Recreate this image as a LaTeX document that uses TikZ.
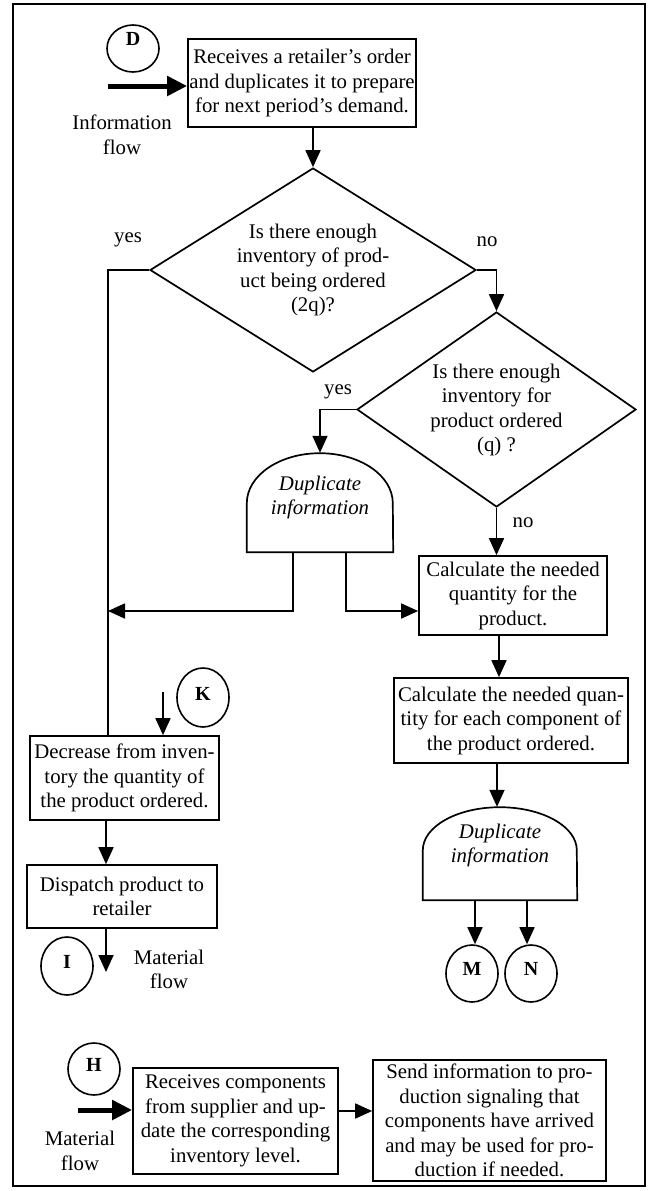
\documentclass[tikz,border=0pt]{standalone}
\usepackage{fontspec}
\setmainfont{Liberation Serif}
\usetikzlibrary{arrows.meta,shapes.geometric,calc}

\begin{document}
\begin{tikzpicture}[x=1pt,y=-1pt,
  every node/.style={font=\fontsize{20.8}{24.5}\selectfont, inner sep=0pt},
  box/.style={draw, line width=1.7pt, align=center},
  dia/.style={draw, diamond, line width=1.7pt, inner sep=0pt},
  txt/.style={align=center},
  dupt/.style={align=center, font=\fontsize{20.8}{24.5}\selectfont\itshape},
  conn/.style={draw, ellipse, line width=1.6pt, minimum width=52pt},
  letter/.style={font=\fontsize{20}{24}\selectfont\bfseries},
  link/.style={line width=1.7pt},
  arr/.style={link, -{Triangle[length=17pt,width=15pt]}},
  bigarr/.style={line width=5pt, -{Triangle[length=20pt,width=19pt]}},
  dupshape/.style={draw, line width=1.7pt},
]
\useasboundingbox (0,0) rectangle (649,1191);

% outer frame
\draw[line width=2pt] (13,4) rectangle (645,1186);

% ---- order handling -------------------------------------------------
\node[conn, minimum height=47pt] (D) at (133,48.5) {};
\node[letter] (Dl) at (133,38.5) {D};
\node[txt] (infolab) at (122,135) {Information\\flow};
\node[box, minimum width=228pt, minimum height=88pt] (b1) at (302,83)
  {Receives a retailer’s order\\and duplicates it to prepare\\for next period’s demand.};

\node[dia, minimum width=326pt, minimum height=204pt] (d1) at (313,270) {};
\node[txt] (d1t) at (313,270) {Is there enough\\inventory of prod-\\uct being ordered\\(2q)?};
\node (yes1) at (128,240) {yes};
\node (no1) at (487,242) {no};

\node[dia, minimum width=279pt, minimum height=195pt] (d2) at (496.5,409.5) {};
\node[txt] (d2t) at (496.5,410) {Is there enough\\inventory for\\product ordered\\(q) ?};
\node (yes2) at (338,392) {yes};
\node (no2) at (523,523) {no};

% duplicate-information blocks (flat base, arched top)
\node[minimum width=146pt, minimum height=99pt] (dup1) at (320,502.5) {};
\draw[dupshape] (dup1.south west) -- ++(0,-49)
  arc[start angle=180, end angle=0, x radius=73pt, y radius=50pt]
  -- (dup1.south east) -- cycle;
\node[dupt] (dup1t) at (320,497.5) {Duplicate\\information};

\node[box, minimum width=188pt, minimum height=79pt] (c1) at (513,595.5)
  {Calculate the needed\\quantity for the\\product.};
\node[box, minimum width=234pt, minimum height=85pt] (c2) at (511,720.5)
  {Calculate the needed quan-\\tity for each component of\\the product ordered.};

\node[minimum width=154pt, minimum height=93pt] (dup2) at (500,853.5) {};
\draw[dupshape] (dup2.south west) -- ++(0,-50)
  arc[start angle=180, end angle=0, x radius=77pt, y radius=43pt]
  -- (dup2.south east) -- cycle;
\node[dupt] (dup2t) at (500,845.5) {Duplicate\\information};

\node[conn, minimum height=57pt] (M) at (472,973.5) {};
\node[letter] (Ml) at (472,968.5) {M};
\node[conn, minimum height=57pt] (N) at (531,973.5) {};
\node[letter] (Nl) at (531,968.5) {N};

\node[conn, minimum height=59pt] (K) at (203,697.5) {};
\node[letter] (Kl) at (203,694) {K};
\node[box, minimum width=189pt, minimum height=84pt] (dec) at (124.5,778)
  {Decrease from inven-\\tory the quantity of\\the product ordered.};
\node[box, minimum width=190pt, minimum height=63pt] (disp) at (122,896.5)
  {Dispatch product to\\retailer};
\node[conn, minimum height=58pt] (I) at (67,966) {};
\node[letter] (Il) at (67,961.5) {I};
\node[txt] (mf1) at (169,969.5) {Material\\flow};

% ---- component receipt ----------------------------------------------
\node[conn, minimum height=52pt] (H) at (94,1069) {};
\node[letter] (Hl) at (94,1065) {H};
\node[txt] (mf2) at (80,1151) {Material\\flow};
\node[box, minimum width=205pt, minimum height=106pt] (rc) at (235.5,1121)
  {Receives components\\from supplier and up-\\date the corresponding\\inventory level.};
\node[box, minimum width=233pt, minimum height=121pt] (sd) at (489.5,1120.5)
  {Send information to pro-\\duction signaling that\\components have arrived\\and may be used for pro-\\duction if needed.};

% ---- connectors ------------------------------------------------------
\coordinate (dIn) at (108,86);
\draw[bigarr] (dIn) -- (dIn -| b1.west);
\draw[arr] (b1.south -| d1.north) -- (d1.north);

\coordinate (yx) at (108,0);
\draw[link] (d1.west) -- (d1.west -| yx) -- (dec.north -| yx);
\draw[arr] (d1.east) -| (d2.north);
\draw[arr] (d2.west) -| (dup1.north);
\draw[arr] (d2.south) -- (d2.south |- c1.north);

\coordinate (my) at (0,611);
\draw[arr] ([xshift=-27pt]dup1.south) |- (yx |- my);
\draw[arr] ([xshift=26pt]dup1.south) |- (c1.west |- my);

\draw[arr] ([xshift=-14pt]c1.south) -- ([xshift=-14pt]c1.south |- c2.north);
\draw[arr] ([xshift=-14pt]c2.south) -- ([xshift=-14pt]c2.south |- dup2.north);
\draw[arr] ([xshift=-25pt]dup2.south) -- ([xshift=-25pt]dup2.south |- M.north);
\draw[arr] ([xshift=27pt]dup2.south) -- ([xshift=27pt]dup2.south |- N.north);

\coordinate (kt) at (163,692);
\draw[arr] (kt) -- (kt |- dec.north);
\coordinate (lx) at (106,0);
\draw[arr] (dec.south -| lx) -- (disp.north -| lx);
\coordinate (iend) at (106,972);
\draw[arr] (disp.south -| lx) -- (iend);

\coordinate (hIn) at (78,1110);
\draw[bigarr] (hIn) -- (hIn -| rc.west);
\coordinate (rsy) at (0,1111);
\draw[arr] (rc.east |- rsy) -- (sd.west |- rsy);
\end{tikzpicture}
\end{document}
